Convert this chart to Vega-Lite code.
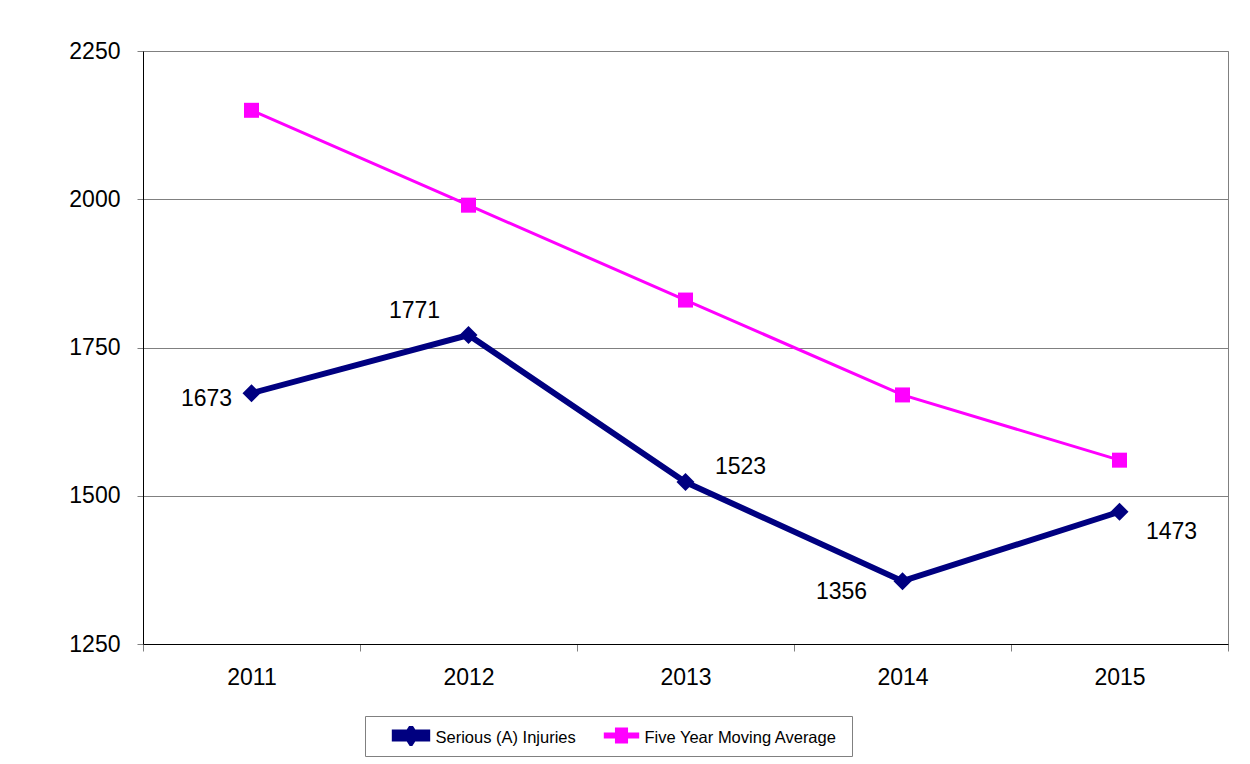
{
  "$schema": "https://vega.github.io/schema/vega-lite/v6.json",
  "width": 1085,
  "height": 593,
  "autosize": "none",
  "padding": {"left": 143, "top": 51, "right": 22, "bottom": 120},
  "background": "white",
  "config": {
    "view": {"stroke": "#808080", "strokeWidth": 1},
    "font": "Liberation Sans"
  },
  "data": {
    "values": [
      {"year": "2011", "series": "Serious (A) Injuries", "value": 1673},
      {"year": "2012", "series": "Serious (A) Injuries", "value": 1771},
      {"year": "2013", "series": "Serious (A) Injuries", "value": 1523},
      {"year": "2014", "series": "Serious (A) Injuries", "value": 1356},
      {"year": "2015", "series": "Serious (A) Injuries", "value": 1473},
      {"year": "2011", "series": "Five Year  Moving Average", "value": 2150},
      {"year": "2012", "series": "Five Year  Moving Average", "value": 1990},
      {"year": "2013", "series": "Five Year  Moving Average", "value": 1830},
      {"year": "2014", "series": "Five Year  Moving Average", "value": 1670},
      {"year": "2015", "series": "Five Year  Moving Average", "value": 1560}
    ]
  },
  "encoding": {
    "x": {
      "field": "year", "type": "ordinal",
      "scale": {"type": "band", "paddingInner": 0, "paddingOuter": 0},
      "axis": {
        "title": null, "labelAngle": 0, "tickBand": "extent",
        "domainColor": "black", "tickColor": "#808080", "tickSize": 7,
        "labelFontSize": 23, "labelColor": "black", "labelPadding": 15,
        "labelFont": "Liberation Sans"
      }
    },
    "y": {
      "field": "value", "type": "quantitative",
      "scale": {"domain": [1250, 2250], "nice": false, "zero": false},
      "axis": {
        "title": null, "values": [1250, 1500, 1750, 2000, 2250], "format": "d",
        "grid": true, "gridColor": "#808080", "gridOpacity": 1,
        "domainColor": "black", "tickColor": "#808080", "tickSize": 6,
        "labelFontSize": 23, "labelColor": "black", "labelPadding": 17,
        "labelFont": "Liberation Sans"
      }
    }
  },
  "layer": [
    {
      "mark": {"type": "line", "strokeJoin": "miter"},
      "encoding": {
        "color": {
          "field": "series", "type": "nominal",
          "scale": {"domain": ["Serious (A) Injuries", "Five Year  Moving Average"], "range": ["#000080", "#FF00FF"]},
          "legend": {
            "orient": "none", "legendX": 222, "legendY": 665,
            "direction": "horizontal", "title": null,
            "strokeColor": "#808080", "padding": 10,
            "labelFont": "Liberation Sans", "labelFontSize": 16.5, "labelColor": "black",
            "labelLimit": 400, "gridAlign": "each",
            "symbolSize": 324, "symbolOffset": 24, "labelOffset": 12.5,
            "columnPadding": 0, "clipHeight": 19,
            "encode": {
              "entries": {
                "update": {
                  "width": {"value": 212},
                  "height": {"value": 19}
                }
              },
              "labels": {
                "update": {"dy": {"value": 2}}
              },
              "symbols": {
                "update": {
                  "shape": {"signal": "datum.value === 'Serious (A) Injuries' ? 'M-1.8,-0.33L1.8,-0.33L1.8,0.33L-1.8,0.33Z M0,-0.78L0.5,0L0,0.78L-0.5,0Z' : 'M-1.8,-0.17L1.8,-0.17L1.8,0.17L-1.8,0.17Z M-0.56,-0.72L0.56,-0.72L0.56,0.72L-0.56,0.72Z M41.3,-0.01L41.4,-0.01L41.4,0.01L41.3,0.01Z'"},
                  "fill": {"signal": "datum.value === 'Serious (A) Injuries' ? '#000080' : '#FF00FF'"},
                  "stroke": {"value": "transparent"},
                  "strokeWidth": {"value": 0},
                  "opacity": {"value": 1},
                  "size": {"value": 324},
                  "dy": {"value": 2}
                }
              }
            }
          }
        },
        "strokeWidth": {
          "field": "series", "type": "nominal",
          "scale": {"domain": ["Serious (A) Injuries", "Five Year  Moving Average"], "range": [6, 3]},
          "legend": null
        }
      }
    },
    {
      "transform": [{"filter": "datum.series === 'Serious (A) Injuries'"}],
      "mark": {"type": "point", "shape": "diamond", "filled": true, "size": 324, "color": "#000080", "opacity": 1}
    },
    {
      "transform": [{"filter": "datum.series === 'Five Year  Moving Average'"}],
      "mark": {"type": "point", "shape": "square", "filled": true, "size": 225, "color": "#FF00FF", "opacity": 1}
    },
    {
      "transform": [{"filter": "datum.series === 'Serious (A) Injuries' && datum.year === '2011'"}],
      "mark": {"type": "text", "fontSize": 23, "color": "black", "align": "center", "baseline": "middle", "dx": -45, "dy": 6},
      "encoding": {"text": {"field": "value", "type": "quantitative", "format": "d"}}
    },
    {
      "transform": [{"filter": "datum.series === 'Serious (A) Injuries' && datum.year === '2012'"}],
      "mark": {"type": "text", "fontSize": 23, "color": "black", "align": "center", "baseline": "middle", "dx": -54, "dy": -24},
      "encoding": {"text": {"field": "value", "type": "quantitative", "format": "d"}}
    },
    {
      "transform": [{"filter": "datum.series === 'Serious (A) Injuries' && datum.year === '2013'"}],
      "mark": {"type": "text", "fontSize": 23, "color": "black", "align": "center", "baseline": "middle", "dx": 55, "dy": -15},
      "encoding": {"text": {"field": "value", "type": "quantitative", "format": "d"}}
    },
    {
      "transform": [{"filter": "datum.series === 'Serious (A) Injuries' && datum.year === '2014'"}],
      "mark": {"type": "text", "fontSize": 23, "color": "black", "align": "center", "baseline": "middle", "dx": -61, "dy": 11},
      "encoding": {"text": {"field": "value", "type": "quantitative", "format": "d"}}
    },
    {
      "transform": [{"filter": "datum.series === 'Serious (A) Injuries' && datum.year === '2015'"}],
      "mark": {"type": "text", "fontSize": 23, "color": "black", "align": "center", "baseline": "middle", "dx": 52, "dy": 20},
      "encoding": {"text": {"field": "value", "type": "quantitative", "format": "d"}}
    }
  ]
}
